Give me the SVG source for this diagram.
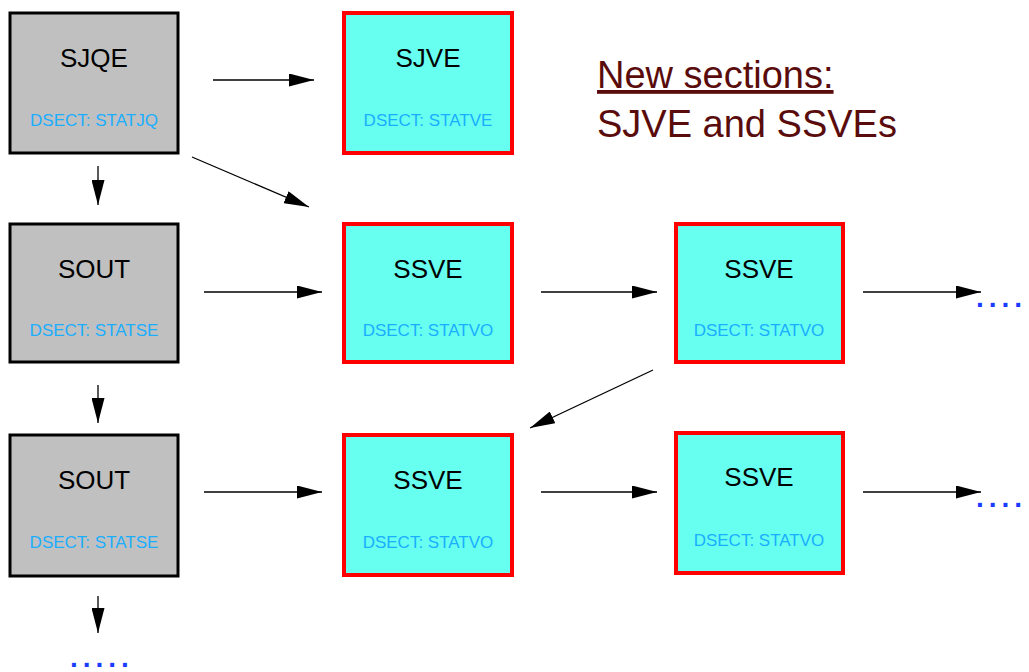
<svg xmlns="http://www.w3.org/2000/svg" width="1029" height="672" viewBox="0 0 1029 672">
<defs>
<marker id="ah" markerWidth="25" markerHeight="13" refX="25" refY="6.5" orient="auto" markerUnits="userSpaceOnUse">
<path d="M0,0 L25,6.5 L0,13 Z" fill="#000"/>
</marker>
<style>
.g{fill:#c0c0c0;stroke:#000;stroke-width:3}
.c{fill:#66fff0;stroke:#ff0000;stroke-width:4}
.t{font-family:"Liberation Sans",Arial,sans-serif;font-size:26px;fill:#000;text-anchor:middle}
.d{font-family:"Liberation Sans",Arial,sans-serif;font-size:17px;fill:#1aaeff;text-anchor:middle}
.e{stroke:#000;stroke-width:1.3;fill:none;marker-end:url(#ah)}
.dots{font-family:"Liberation Sans",Arial,sans-serif;font-size:28px;font-weight:bold;fill:#1a3cff;letter-spacing:5px}
.h{font-family:"Liberation Sans",Arial,sans-serif;font-size:38px;fill:#5a0c0c}
</style>
</defs>
<rect width="1029" height="672" fill="#fff"/>
<g id="connectors">
<line class="e" x1="213" y1="80" x2="314" y2="80"/>
<line class="e" x1="192" y1="157" x2="309" y2="207"/>
<line class="e" x1="98" y1="166" x2="98" y2="205"/>
<line class="e" x1="98" y1="385" x2="98" y2="423"/>
<line class="e" x1="98" y1="596" x2="98" y2="633"/>
<line class="e" x1="204" y1="292" x2="322" y2="292"/>
<line class="e" x1="541" y1="292" x2="657" y2="292"/>
<line class="e" x1="863" y1="292" x2="981" y2="292"/>
<line class="e" x1="653" y1="370" x2="530" y2="428"/>
<line class="e" x1="204" y1="492" x2="322" y2="492"/>
<line class="e" x1="541" y1="492" x2="657" y2="492"/>
<line class="e" x1="863" y1="492" x2="981" y2="492"/>
</g>
<g id="sjqe"><rect class="g" x="10" y="13" width="168" height="140"/><text class="t" x="94" y="67">SJQE</text><text class="d" x="94" y="126">DSECT: STATJQ</text></g>
<g id="sjve"><rect class="c" x="344" y="13" width="168" height="140"/><text class="t" x="428" y="67">SJVE</text><text class="d" x="428" y="126">DSECT: STATVE</text></g>
<g id="sout1"><rect class="g" x="10" y="224" width="168" height="138"/><text class="t" x="94" y="278">SOUT</text><text class="d" x="94" y="336">DSECT: STATSE</text></g>
<g id="ssve1"><rect class="c" x="344" y="224" width="168" height="138"/><text class="t" x="428" y="278">SSVE</text><text class="d" x="428" y="336">DSECT: STATVO</text></g>
<g id="ssve2"><rect class="c" x="676" y="224" width="167" height="138"/><text class="t" x="759" y="278">SSVE</text><text class="d" x="759" y="336">DSECT: STATVO</text></g>
<g id="sout2"><rect class="g" x="10" y="435" width="168" height="141"/><text class="t" x="94" y="489">SOUT</text><text class="d" x="94" y="548">DSECT: STATSE</text></g>
<g id="ssve3"><rect class="c" x="344" y="435" width="168" height="140"/><text class="t" x="428" y="489">SSVE</text><text class="d" x="428" y="548">DSECT: STATVO</text></g>
<g id="ssve4"><rect class="c" x="676" y="433" width="167" height="140"/><text class="t" x="759" y="486">SSVE</text><text class="d" x="759" y="546">DSECT: STATVO</text></g>
<g id="more"><text class="dots" x="976" y="307">....</text><text class="dots" x="976" y="507">....</text><text class="dots" x="70" y="667">.....</text></g>
<g id="note"><text class="h" x="597" y="88" text-decoration="underline">New sections:</text><text class="h" x="597" y="137">SJVE and SSVEs</text></g>
</svg>
